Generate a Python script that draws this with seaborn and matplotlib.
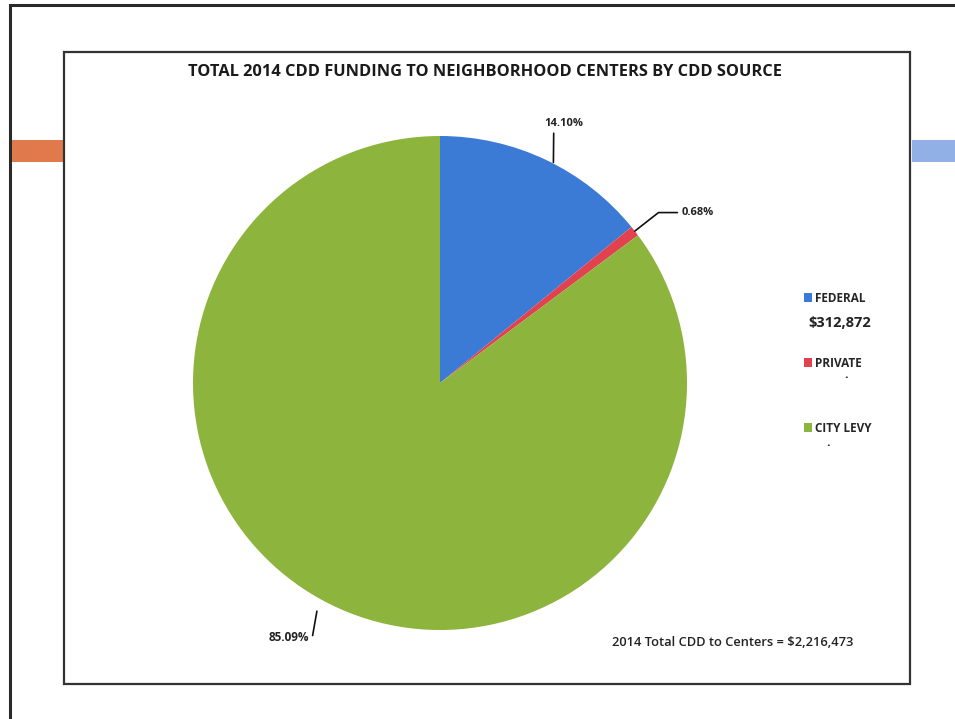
import seaborn as sns
import numpy as np
import matplotlib.pyplot as plt
from matplotlib.patches import Rectangle

# chart data
sources = ["FEDERAL", "PRIVATE", "CITY LEVY"]
shares = [14.10, 0.68, 85.09]
share_labels = ["14.10%", "0.68%", "85.09%"]
federal_amount = "$312,872"
total_note = "2014 Total CDD to Centers = $2,216,473"
title = "TOTAL 2014 CDD FUNDING TO NEIGHBORHOOD CENTERS BY CDD SOURCE"

sns.set_style("white")
plt.rcParams["font.family"] = ["Open Sans", "DejaVu Sans"]
colors = sns.color_palette(["#3b7bd6", "#e2424f", "#8db43c"])

W, H = 955, 719
fig = plt.figure(figsize=(W / 100, H / 100), dpi=100)

def px(x0, y0, x1, y1):
    # pixel box (top-left origin) -> figure fraction rect
    return [x0 / W, 1 - y1 / H, (x1 - x0) / W, (y1 - y0) / H]

# slide decoration: outer frame, coloured bars, chart frame
deco = [
    Rectangle((10 / W, -0.05), 1.2, 1.05 - 5 / H, fill=False, lw=2.2, ec="#2a2a2a"),
    Rectangle((12 / W, 1 - 162 / H), 52 / W, 22 / H, color="#e07a4c", lw=0),
    Rectangle((912 / W, 1 - 162 / H), 43 / W, 22 / H, color="#91b1e6", lw=0),
    Rectangle((64 / W, 1 - 684 / H), 846 / W, 632 / H, fill=False, lw=1.6, ec="#333333"),
]
for p in deco:
    p.set_transform(fig.transFigure)
    p.set_zorder(-1)
    fig.patches.append(p)

fig.text(485 / W, 1 - 72 / H, title, ha="center", va="center",
         fontsize=11.8, fontweight="bold", color="#1a1a1a")

ax = fig.add_axes(px(193, 136, 687, 630))
wedges, _ = ax.pie(shares, colors=colors, startangle=90, counterclock=False,
                   radius=1, wedgeprops=dict(lw=0))
ax.set_xlim(-1, 1)
ax.set_ylim(-1, 1)
ax.set_aspect("equal")
ax.axis("off")

lbl = dict(fontsize=8, fontweight="bold", color="#222222")
line = dict(arrowstyle="-", color="#111111", lw=1.2, shrinkA=1, shrinkB=0)
mids = []
for w in wedges:
    a = np.deg2rad((w.theta1 + w.theta2) / 2)
    mids.append((np.cos(a), np.sin(a)))

ax.annotate(share_labels[0], xy=(mids[0][0] + 0.03, mids[0][1] - 0.01), xytext=(0.5, 1.03),
            ha="center", va="bottom", annotation_clip=False,
            arrowprops=dict(line, relpos=(0.25, 0)), **lbl)
ax.annotate(share_labels[1], xy=mids[1], xytext=(0.98, 0.69),
            ha="left", va="center", annotation_clip=False,
            arrowprops=dict(line, connectionstyle="angle,angleA=0,angleB=38,rad=0"), **lbl)
ax.annotate(share_labels[2], xy=(mids[2][0] - 0.05, mids[2][1] - 0.03), xytext=(-0.53, -1.03),
            ha="right", va="center", annotation_clip=False,
            arrowprops=dict(line, relpos=(1, 0.3),
                            connectionstyle="angle,angleA=0,angleB=80,rad=0"),
            fontsize=8.5, fontweight="bold", color="#222222")

fig.legend(wedges, sources, loc="upper left", bbox_to_anchor=(793 / W, 1 - 281 / H),
           frameon=False, handlelength=0.7, handleheight=0.7,
           handletextpad=0.3, labelspacing=4.4, prop=dict(weight="bold", size=8.5))
fig.text(840 / W, 1 - 323 / H, federal_amount, ha="center", va="center",
         fontsize=10.5, fontweight="bold", color="#222222")
fig.text(846 / W, 1 - 375 / H, ".", ha="center", va="center", fontsize=9,
         fontweight="bold", color="#222222")
fig.text(828 / W, 1 - 443 / H, ".", ha="center", va="center", fontsize=9,
         fontweight="bold", color="#222222")

fig.text(612 / W, 1 - 643 / H, total_note, ha="left", va="center",
         fontsize=9.3, fontweight="semibold", color="#222222")

fig.savefig("out.png", dpi=100)
